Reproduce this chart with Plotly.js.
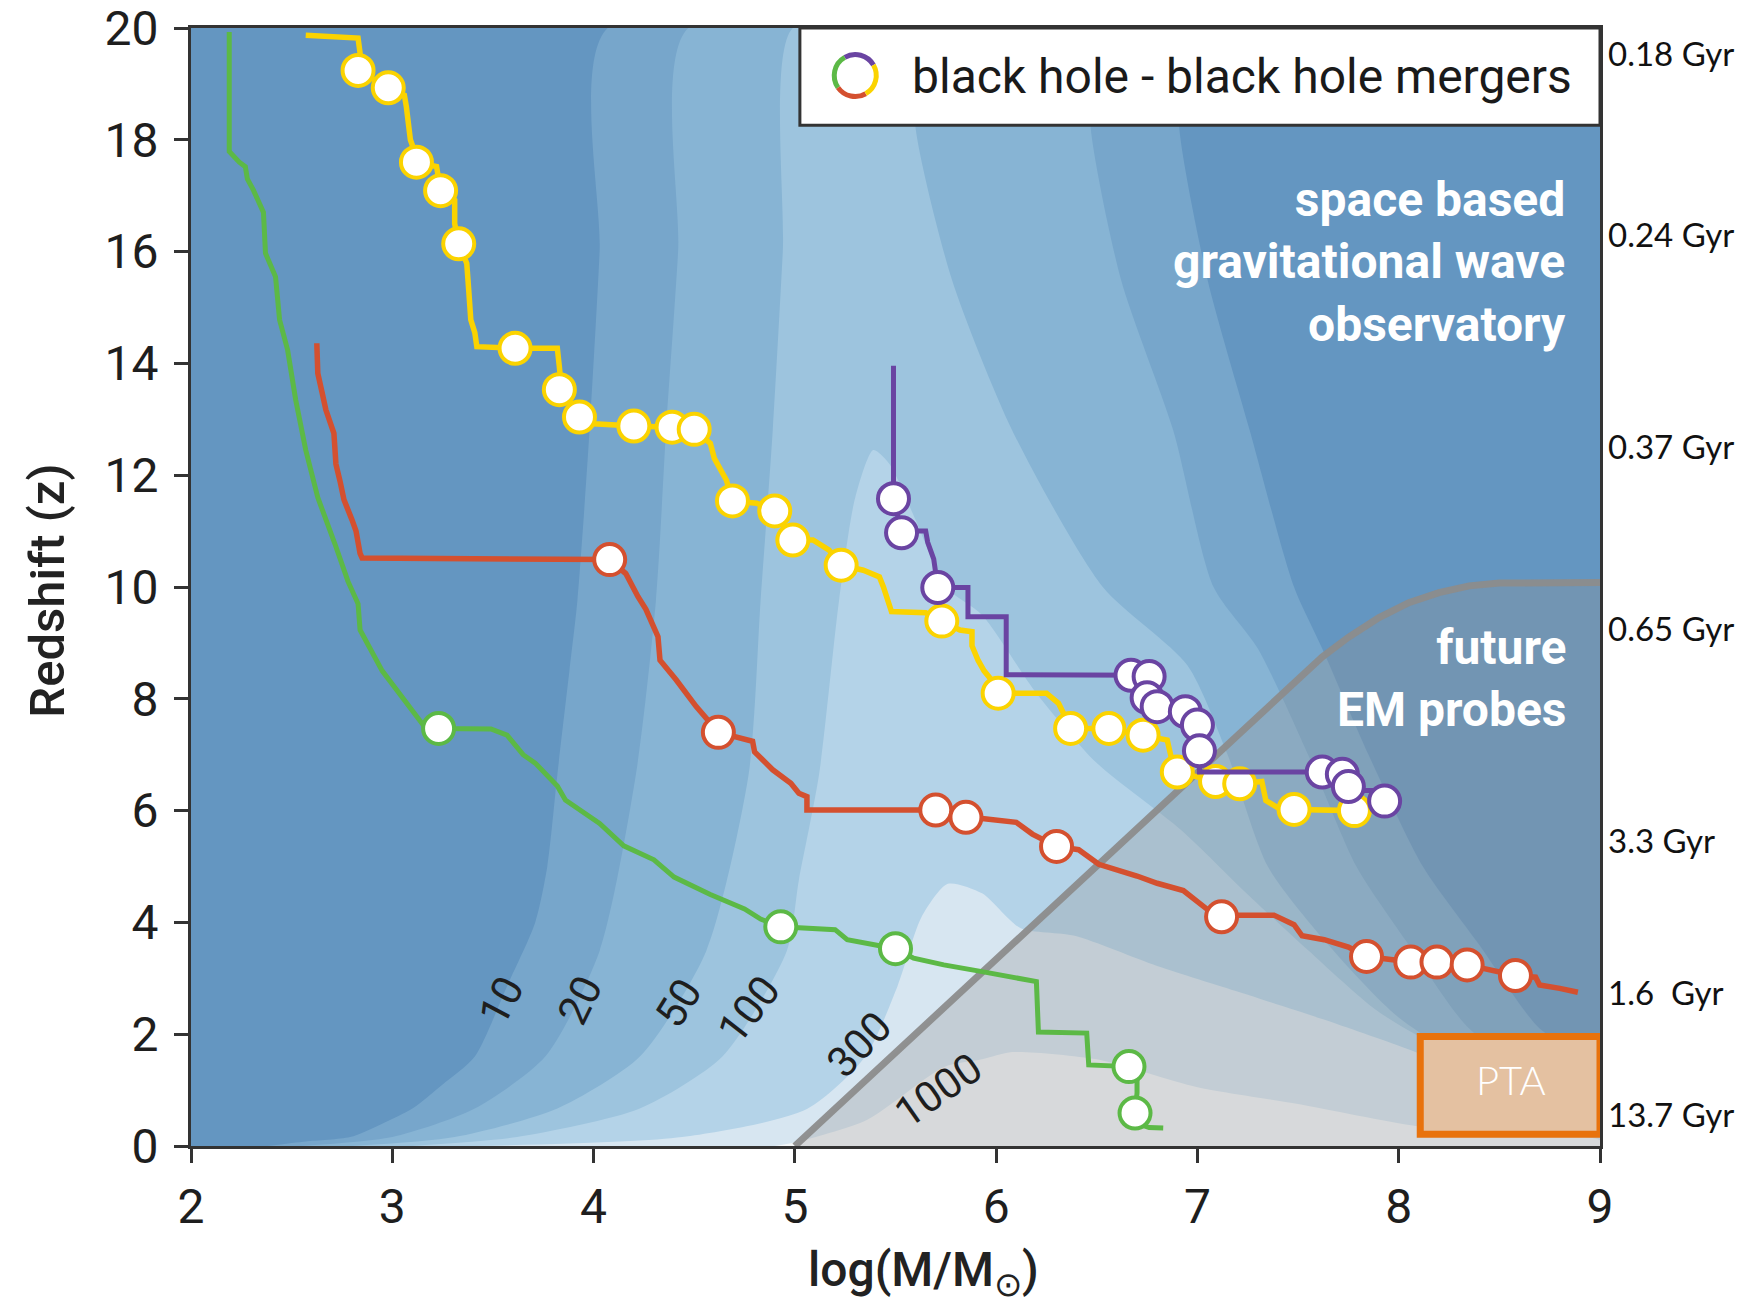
<!DOCTYPE html>
<html>
<head>
<meta charset="utf-8">
<script src="https://cdn.plot.ly/plotly-3.0.1.min.js"></script>
<style>html,body{margin:0;padding:0;background:#fff}#chart{width:1761px;height:1307px}</style>
</head>
<body>
<div id="chart"></div>
<script>
// ---------- SNR contour regions (log M, z) ----------
const snr10_x = [2.38,2.57,2.79,2.95,3.10,3.25,3.41,3.57,3.71,3.77,3.82,3.88,3.92,3.98,4.03,4.07,6.91,6.91,7.05,7.26,7.48,7.62,7.85,8.12,8.40,8.70,9.00,9.00];
const snr10_z = [0,0.08,0.16,0.4,0.67,1.1,1.6,2.86,4.0,5.0,6.64,8.5,9.77,12.8,16,20,20,18.2,15.5,12.8,10,8.9,7.0,5.0,3.6,2.1,1.4,0];
const snr20_x = [2.55,3.00,3.41,3.76,4.03,4.21,4.31,4.36,4.42,4.47,6.47,6.47,6.62,6.88,7.08,7.30,7.55,7.79,8.05,8.35,8.80,9.0,9.0];
const snr20_z = [0,0.16,0.67,1.6,3.49,6.64,9.77,12.8,16,20,20,18.2,15.5,12.8,10,8.9,7.0,5.0,3.6,2.1,1.0,0.8,0];
const snr50_x = [2.80,3.31,3.82,4.23,4.56,4.77,4.83,4.89,4.94,4.99,5.59,5.60,5.78,6.08,6.53,6.95,7.15,7.35,7.65,8.00,8.50,9.0,9.0];
const snr50_z = [0,0.16,0.67,1.6,3.49,6.64,9.77,12.8,16,20,20,18.2,15.5,12.8,10,8.6,7.0,5.0,3.6,2.3,1.2,0.7,0];
const snr100_x = [3.10,3.62,4.23,4.64,4.96,5.02,5.12,5.22,5.30,5.39,5.47,5.60,5.75,5.93,6.20,6.50,6.92,7.25,7.55,7.90,8.40,9.0,9.0];
const snr100_z = [0,0.16,0.67,1.6,3.49,4.76,6.64,9.77,11.6,12.45,12.2,11.2,10.0,9.5,8.1,6.85,5.65,4.5,3.5,2.4,1.4,0.6,0];
const snr300_x = [3.41,4.44,5.06,5.35,5.51,5.63,5.76,5.93,6.12,6.39,6.80,7.21,7.62,8.04,8.50,9.0,9.0];
const snr300_z = [0,0.16,0.66,1.6,2.86,4.1,4.69,4.52,3.9,3.76,3.22,2.75,2.27,1.74,1.1,0.5,0];
const snr1000_x = [4.90,5.04,5.36,5.74,5.93,6.08,6.50,7.00,7.50,8.10,9.0,9.0];
const snr1000_z = [0,0.1,0.47,1.41,1.55,1.68,1.55,1.05,0.75,0.35,0.1,0];
const snrLabels = ['10','20','50','100','300','1000'];
const snrLabel_x = [3.54,3.93,4.42,4.77,5.32,5.71];
const snrLabel_z = [2.61,2.61,2.55,2.45,1.81,1.00];

// ---------- future EM probes boundary ----------
const em_x = [5.0,7.5,7.62,7.75,7.9,8.05,8.2,8.35,8.5,9.0];
const em_z = [0,8.38,8.75,9.1,9.45,9.72,9.9,10.02,10.07,10.08];

// ---------- merger trees ----------
const green_x = [2.19,2.19,2.24,2.27,2.28,2.31,2.36,2.37,2.42,2.44,2.48,2.52,2.57,2.63,2.72,2.78,2.83,2.84,2.95,3.07,3.16,3.23,3.49,3.57,3.65,3.71,3.82,3.86,4.03,4.15,4.30,4.40,4.58,4.75,4.83,4.93,5.04,5.20,5.26,5.41,5.50,5.59,5.74,5.93,6.08,6.20,6.21,6.45,6.46,6.60,6.66,6.70,6.70,6.69,6.72,6.76,6.83];
const green_z = [19.93,17.79,17.6,17.52,17.3,17.1,16.7,15.97,15.55,14.78,14.24,13.35,12.45,11.6,10.72,10.1,9.7,9.23,8.5,7.92,7.5,7.47,7.46,7.35,7.0,6.85,6.44,6.19,5.77,5.37,5.12,4.81,4.5,4.24,4.06,3.92,3.9,3.87,3.69,3.58,3.53,3.36,3.24,3.12,3.03,2.94,2.04,2.02,1.45,1.42,1.42,1.2,0.95,0.59,0.38,0.33,0.32];
const green_mx = [3.23,4.93,5.50,6.66,6.69];
const green_mz = [7.47,3.92,3.53,1.42,0.59];

const red_x = [2.625,2.63,2.65,2.67,2.71,2.72,2.74,2.76,2.80,2.82,2.84,2.85,4.08,4.16,4.22,4.26,4.32,4.33,4.41,4.51,4.62,4.72,4.79,4.80,4.89,4.98,5.02,5.06,5.06,5.70,5.85,5.93,6.10,6.18,6.30,6.41,6.51,6.70,6.80,6.93,7.05,7.12,7.21,7.38,7.48,7.52,7.63,7.75,7.84,8.06,8.19,8.34,8.45,8.58,8.68,8.70,8.80,8.89];
const red_z = [14.36,13.82,13.5,13.17,12.75,12.2,11.9,11.56,11.2,11.0,10.6,10.52,10.49,10.24,9.83,9.6,9.11,8.69,8.34,7.86,7.40,7.32,7.24,7.05,6.73,6.49,6.31,6.25,6.01,6.01,5.88,5.86,5.79,5.58,5.36,5.3,5.04,4.83,4.70,4.57,4.23,4.10,4.13,4.13,3.96,3.76,3.69,3.56,3.39,3.29,3.29,3.24,3.15,3.05,3.02,2.88,2.82,2.75];
const red_mx = [4.08,4.62,5.70,5.85,6.30,7.12,7.84,8.06,8.19,8.34,8.58];
const red_mz = [10.49,7.40,6.01,5.88,5.36,4.10,3.39,3.29,3.29,3.24,3.05];

const yellow_x = [2.57,2.83,2.84,2.83,2.98,3.06,3.07,3.09,3.11,3.12,3.22,3.24,3.31,3.31,3.33,3.37,3.38,3.39,3.41,3.42,3.61,3.82,3.83,3.84,3.93,4.00,4.20,4.39,4.50,4.58,4.60,4.66,4.69,4.81,4.90,4.99,5.09,5.17,5.23,5.34,5.42,5.44,5.48,5.65,5.73,5.82,5.88,5.88,5.91,5.94,5.99,6.01,6.25,6.31,6.34,6.37,6.56,6.73,6.85,6.87,6.90,7.09,7.21,7.32,7.34,7.40,7.48,7.78,7.80];
const yellow_z = [19.87,19.82,19.55,19.24,18.93,18.8,18.59,18.0,17.8,17.6,17.52,17.09,16.92,16.5,16.14,15.79,15.3,14.78,14.55,14.3,14.27,14.27,13.94,13.55,13.05,12.92,12.88,12.86,12.82,12.57,12.3,11.91,11.54,11.5,11.36,10.84,10.84,10.66,10.39,10.3,10.18,10.0,9.56,9.54,9.39,9.23,9.2,8.95,8.69,8.5,8.28,8.1,8.1,7.92,7.7,7.47,7.47,7.35,7.26,6.95,6.69,6.52,6.48,6.52,6.18,6.05,6.02,6.0,6.2];
const yellow_mx = [2.83,2.98,3.12,3.24,3.33,3.61,3.83,3.93,4.20,4.39,4.50,4.69,4.90,4.99,5.23,5.73,6.01,6.37,6.56,6.73,6.90,7.09,7.21,7.48,7.78];
const yellow_mz = [19.24,18.93,17.60,17.09,16.14,14.27,13.53,13.04,12.88,12.86,12.82,11.54,11.36,10.84,10.39,9.39,8.10,7.47,7.47,7.35,6.69,6.52,6.48,6.02,6.00];

const purple_x = [5.49,5.49,5.53,5.65,5.66,5.69,5.71,5.86,5.86,6.05,6.05,6.67,6.76,6.75,6.80,6.94,7.00,7.01,7.01,7.62,7.72,7.75,7.80,7.90,7.93];
const purple_z = [13.96,11.58,11.0,11.0,10.8,10.5,9.99,9.99,9.47,9.47,8.43,8.43,8.42,8.0,7.85,7.77,7.53,7.06,6.69,6.69,6.65,6.43,6.36,6.36,6.18];
const purple_mx = [5.49,5.53,5.71,6.67,6.76,6.75,6.80,6.94,7.00,7.01,7.62,7.72,7.75,7.93];
const purple_mz = [11.58,10.97,9.99,8.42,8.40,8.02,7.86,7.77,7.53,7.07,6.69,6.65,6.43,6.17];

// ---------- axis tick labels ----------
const xTicks = [2,3,4,5,6,7,8,9];
const yTicks = [0,2,4,6,8,10,12,14,16,18,20];
const ageLabels = ['0.18 Gyr','0.24 Gyr','0.37 Gyr','0.65 Gyr','3.3 Gyr','1.6&nbsp;&nbsp;Gyr','13.7 Gyr'];
const ageLabel_z = [19.56,16.32,12.52,9.27,5.47,2.75,0.58];

// ---------- styling ----------
const C = {
  bg:'#6496c1', c10:'#77a6cb', c20:'#87b4d4', c50:'#9dc4de', c100:'#b4d3e8', c300:'#d7e6f1', c1000:'#f4f7f9',
  green:'#5cb946', red:'#d4502f', yellow:'#fbd300', purple:'#6a44a2'
};

function band(x, z, color){
  return {x:x, y:z, mode:'lines', fill:'toself', fillcolor:color,
          line:{width:0, color:color, shape:'spline', smoothing:0.7},
          hoverinfo:'skip', showlegend:false};
}
function path(x, z, color, w){
  return {x:x, y:z, mode:'lines', line:{color:color, width:w}, hoverinfo:'skip', showlegend:false};
}
function marks(x, z, color){
  return {x:x, y:z, mode:'markers', marker:{size:31, color:'#ffffff', line:{color:color, width:4}},
          hoverinfo:'skip', showlegend:false};
}

const traces = [
  band(snr10_x, snr10_z, C.c10),
  band(snr20_x, snr20_z, C.c20),
  band(snr50_x, snr50_z, C.c50),
  band(snr100_x, snr100_z, C.c100),
  band(snr300_x, snr300_z, C.c300),
  band(snr1000_x, snr1000_z, C.c1000),
  {x:em_x.concat([9.0]), y:em_z.concat([0]), mode:'lines', fill:'toself', fillcolor:'rgba(149,149,149,0.30)',
   line:{width:0}, hoverinfo:'skip', showlegend:false},
  path(em_x, em_z, 'rgba(140,140,140,0.95)', 7),
  path(green_x, green_z, C.green, 5), marks(green_mx, green_mz, C.green),
  path(red_x, red_z, C.red, 5.5), marks(red_mx, red_mz, C.red),
  path(yellow_x, yellow_z, C.yellow, 5.5), marks(yellow_mx, yellow_mz, C.yellow),
  path(purple_x, purple_z, C.purple, 5), marks(purple_mx, purple_mz, C.purple)
];

// legend icon ring built from arcs (pixel sized around an anchor)
function arcPath(r, a0, a1){
  const t0 = a0*Math.PI/180, t1 = a1*Math.PI/180;
  const k = 4/3*Math.tan((t1-t0)/4)*r;
  const p0 = [r*Math.cos(t0), r*Math.sin(t0)], p3 = [r*Math.cos(t1), r*Math.sin(t1)];
  const p1 = [p0[0]-k*Math.sin(t0), p0[1]+k*Math.cos(t0)];
  const p2 = [p3[0]+k*Math.sin(t1), p3[1]-k*Math.cos(t1)];
  const f = v => v.toFixed(2);
  return 'M'+f(p0[0])+','+f(p0[1])+' C'+f(p1[0])+','+f(p1[1])+' '+f(p2[0])+','+f(p2[1])+' '+f(p3[0])+','+f(p3[1]);
}
const iconX = 5.30, iconZ = 19.15, iconR = 21;
const ringParts = [[30,120,C.purple],[120,215,C.green],[215,300,C.red],[300,390,C.yellow]];

const shapes = [
  {type:'rect', xref:'x', yref:'y', x0:5.025, x1:9.0, y0:18.26, y1:20, fillcolor:'#ffffff',
   line:{color:'#333333', width:3}, layer:'above'},
  {type:'rect', xref:'x', yref:'y', x0:8.107, x1:9.0, y0:0.21, y1:1.96, fillcolor:'#e4c1a1',
   line:{color:'#e8720c', width:7}, layer:'above'}
];
ringParts.forEach(p => {
  shapes.push({type:'path', xref:'x', yref:'y', xsizemode:'pixel', ysizemode:'pixel',
    xanchor:iconX, yanchor:iconZ, path:arcPath(iconR, p[0], p[1]),
    line:{color:p[2], width:5}, layer:'above'});
});

const labelFont = {family:'Roboto, sans-serif', size:42, color:'#1e1e1e'};
const snrAngles = [-62,-64,-58,-52,-46,-35];
const annotations = [];
snrLabels.forEach((t,i) => annotations.push({x:snrLabel_x[i], y:snrLabel_z[i], xref:'x', yref:'y', text:t,
  showarrow:false, textangle:snrAngles[i], font:labelFont}));
ageLabels.forEach((t,i) => annotations.push({x:1, xref:'paper', y:ageLabel_z[i], yref:'y', text:t,
  xanchor:'left', xshift:6, showarrow:false, font:{family:'Lato, sans-serif', size:33, color:'#111'}}));
annotations.push(
  {x:5.57, y:19.14, xref:'x', yref:'y', xanchor:'left', text:'black hole - black hole mergers', showarrow:false,
   font:{family:'Roboto, sans-serif', size:48, color:'#1a1a1a'}},
  {x:8.84, y:15.81, xref:'x', yref:'y', xanchor:'right', align:'right', showarrow:false,
   text:'space based<br>gravitational wave<br>observatory',
   font:{family:'Roboto, sans-serif', size:48, color:'#ffffff', weight:'bold'}},
  {x:8.84, y:8.37, xref:'x', yref:'y', xanchor:'right', align:'right', showarrow:false,
   text:'future<br>EM probes',
   font:{family:'Roboto, sans-serif', size:48, color:'#ffffff', weight:'bold'}},
  {x:8.56, y:1.18, xref:'x', yref:'y', text:'PTA', showarrow:false,
   font:{family:'Lato, sans-serif', size:40, color:'#ffffff', weight:300}},
  {x:-0.102, y:0.497, xref:'paper', yref:'paper', xanchor:'center', yanchor:'middle', text:'Redshift (z)',
   textangle:-90, showarrow:false, font:{family:'Roboto, sans-serif', size:49, color:'#222', weight:500}},
  {x:0.52, y:-0.113, xref:'paper', yref:'paper', xanchor:'center', yanchor:'middle', text:'log(M/M<sub>⊙</sub>)',
   showarrow:false, font:{family:'Roboto, sans-serif', size:48, color:'#222', weight:500}}
);

const axisCommon = {showgrid:false, zeroline:false, showline:true, linecolor:'#333', linewidth:3, mirror:true,
  ticks:'outside', ticklen:14, tickwidth:3, tickcolor:'#333', ticklabeloverflow:'allow',
  tickfont:{family:'Roboto, sans-serif', size:48, color:'#1e1e1e'}};

const layout = {
  width:1761, height:1307, margin:{l:191, r:161, t:28, b:161},
  paper_bgcolor:'#ffffff', plot_bgcolor:C.bg, showlegend:false,
  xaxis:Object.assign({range:[2,9], tickvals:xTicks, ticklabelstandoff:2}, axisCommon),
  yaxis:Object.assign({range:[0,20], tickvals:yTicks, ticklabelstandoff:6}, axisCommon),
  shapes:shapes, annotations:annotations
};

Plotly.newPlot('chart', traces, layout, {staticPlot:true, displayModeBar:false});
</script>
</body>
</html>
